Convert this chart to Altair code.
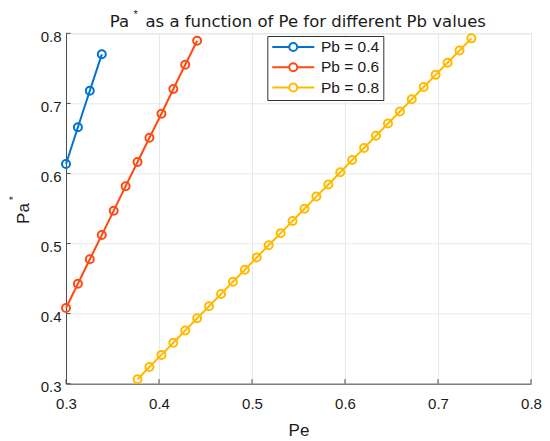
import altair as alt
import pandas as pd

FONT = "Liberation Sans"
TITLE_FONT = "DejaVu Sans"

# Pe values (common grid shared by the three curves)
pe_values = [0.3000, 0.3128, 0.3256, 0.3385, 0.3513, 0.3641, 0.3769, 0.3897,
             0.4026, 0.4154, 0.4282, 0.4410, 0.4538, 0.4667, 0.4795, 0.4923,
             0.5051, 0.5179, 0.5308, 0.5436, 0.5564, 0.5692, 0.5821, 0.5949,
             0.6077, 0.6205, 0.6333, 0.6462, 0.6590, 0.6718, 0.6846, 0.6974,
             0.7103, 0.7231, 0.7359]

series_names = ["Pb = 0.4", "Pb = 0.6", "Pb = 0.8"]
series_colors = ["#0072D0", "#FF4A12", "#FFBA00"]

pe_04 = pe_values[0:4]
pa_04 = [0.6135, 0.6659, 0.7181, 0.7700]

pe_06 = pe_values[0:12]
pa_06 = [0.4080, 0.4427, 0.4775, 0.5122, 0.5469, 0.5817, 0.6164, 0.6510,
         0.6853, 0.7205, 0.7552, 0.7894]

pe_08 = pe_values[6:35]
pa_08 = [0.3064, 0.3238, 0.3411, 0.3585, 0.3759, 0.3933, 0.4106, 0.4280,
         0.4454, 0.4627, 0.4801, 0.4975, 0.5148, 0.5322, 0.5496, 0.5670,
         0.5843, 0.6017, 0.6191, 0.6364, 0.6538, 0.6712, 0.6885, 0.7059,
         0.7233, 0.7407, 0.7580, 0.7754, 0.7928]

tick_values = [0.3, 0.4, 0.5, 0.6, 0.7, 0.8]

title_head = "Pa"
title_tail = "as a function of Pe for different Pb values"

rows = []
for name, xs, ys in zip(series_names, [pe_04, pe_06, pe_08], [pa_04, pa_06, pa_08]):
    for i, (a, b) in enumerate(zip(xs, ys)):
        rows.append({"series": name, "Pe": a, "Pa": b, "order": i})
df = pd.DataFrame(rows)
ticks_df = pd.DataFrame({"t": tick_values})

W, H = 465, 350.4
TEXT = "#1a1a1a"
AXC = "#4d4d4d"
GRID = "#e8e8e8"

x_scale = alt.Scale(domain=[0.3, 0.8], nice=False, zero=False)
y_scale = alt.Scale(domain=[0.3, 0.8], nice=False, zero=False)

x_axis = alt.Axis(values=tick_values, format=".1f", title="Pe", grid=True,
                  gridColor=GRID, gridWidth=1, domainColor=AXC, domainWidth=1,
                  ticks=False, tickSize=0, labelFont=FONT, labelFontSize=15,
                  labelColor=TEXT, labelPadding=12.5, labelFlush=False,
                  titleFont=FONT, titleFontSize=17, titleFontWeight="normal",
                  titleColor=TEXT, titleY=51.7, titleBaseline="alphabetic")
y_axis = alt.Axis(values=tick_values, format=".1f", title="Pa", grid=True,
                  gridColor=GRID, gridWidth=1, domainColor=AXC, domainWidth=1,
                  ticks=False, tickSize=0, labelFont=FONT, labelFontSize=15,
                  labelColor=TEXT, labelPadding=5, labelOffset=3, labelFlush=False,
                  titleFont=FONT, titleFontSize=17, titleFontWeight="normal",
                  titleColor=TEXT, titleX=-38, titleY=179.7, titleAngle=270,
                  titleAlign="center", titleBaseline="alphabetic")

legend_path = ("M-4.2,0L-0.8,0M0.8,0L4.2,0M0.8,0A0.8,0.8,0,1,1,-0.8,0"
               "A0.8,0.8,0,1,1,0.8,0")
color = alt.Color("series:N",
                  scale=alt.Scale(domain=series_names, range=series_colors),
                  legend=alt.Legend(title=None, orient="none", legendX=201.3,
                                    legendY=2.7, direction="vertical",
                                    symbolType=legend_path, symbolSize=100,
                                    symbolStrokeWidth=2, symbolOffset=15,
                                    symbolOpacity=1, labelOffset=20,
                                    labelFont=FONT, labelFontSize=15.5,
                                    labelColor=TEXT, padding=3.2,
                                    rowPadding=2.3, fillColor="white",
                                    strokeColor="#333333", cornerRadius=0))

base = alt.Chart(df).encode(
    x=alt.X("Pe:Q", scale=x_scale, axis=x_axis),
    y=alt.Y("Pa:Q", scale=y_scale, axis=y_axis),
    color=color,
    order="order:Q",
)
lines = base.mark_line(strokeWidth=2)
points = base.mark_point(filled=False, size=64, strokeWidth=2, opacity=1)

x_ticks = alt.Chart(ticks_df).mark_rule(color=AXC, strokeWidth=1).encode(
    x=alt.X("t:Q", scale=x_scale, axis=x_axis),
    y=alt.value(H), y2=alt.value(H - 4.6))
y_ticks = alt.Chart(ticks_df).mark_rule(color=AXC, strokeWidth=1).encode(
    y=alt.Y("t:Q", scale=y_scale, axis=y_axis),
    x=alt.value(0), x2=alt.value(4.6))

head_df = pd.DataFrame({"s": [title_head]})
tail_df = pd.DataFrame({"s": [title_tail]})
title_head_mark = alt.Chart(head_df).mark_text(
    font=TITLE_FONT, fontSize=16.5, color=TEXT, align="left",
    baseline="alphabetic"
).encode(text="s:N", x=alt.value(43.8), y=alt.value(-6.6))
title_tail_mark = alt.Chart(tail_df).mark_text(
    font=TITLE_FONT, fontSize=16.5, color=TEXT, align="left",
    baseline="alphabetic"
).encode(text="s:N", x=alt.value(79.5), y=alt.value(-6.6))

star_df = pd.DataFrame({"s": ["*"]})
title_star = alt.Chart(star_df).mark_text(
    font=FONT, fontSize=11, color=TEXT, align="center", baseline="alphabetic"
).encode(text="s:N", x=alt.value(69.7), y=alt.value(-15.3))
ylab_star = alt.Chart(star_df).mark_text(
    font=FONT, fontSize=11, color=TEXT, align="center", baseline="alphabetic",
    angle=270
).encode(text="s:N", x=alt.value(-48.6), y=alt.value(164.7))

chart = alt.layer(x_ticks, y_ticks, lines, points, title_head_mark,
                  title_tail_mark, title_star, ylab_star).properties(
    width=W, height=H,
    autosize=alt.AutoSizeParams(type="none"),
    padding={"left": 58, "top": 25.3, "right": 11, "bottom": 57.3},
).configure_view(stroke=None).configure(background="white")

chart.save("out.html", embed_options={"renderer": "svg", "actions": False})
